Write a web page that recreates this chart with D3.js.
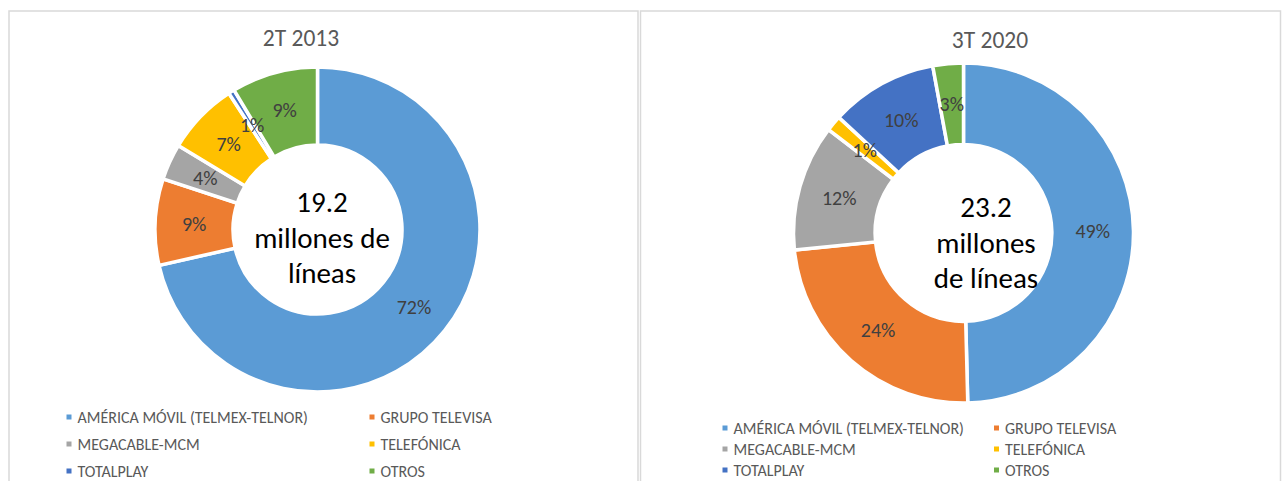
<!DOCTYPE html>
<html>
<head>
<meta charset="utf-8">
<script src="https://cdn.jsdelivr.net/npm/d3@7"></script>
<style>
  body { margin: 0; background: #fff; }
  svg text { font-family: Calibri, Carlito, Lato, sans-serif; }
</style>
</head>
<body>
<script>
// Companies (legend order = slice order, clockwise from 12 o'clock)
var companies = ["AMÉRICA MÓVIL (TELMEX-TELNOR)", "GRUPO TELEVISA", "MEGACABLE-MCM", "TELEFÓNICA", "TOTALPLAY", "OTROS"];
var colors = ["#5B9BD5", "#ED7D31", "#A5A5A5", "#FFC000", "#4472C4", "#70AD47"];

// 2T 2013 shares and the printed labels
var share2013 = [71.6, 8.6, 3.6, 7.2, 0.6, 8.6];
var labels2013 = ["72%", "9%", "4%", "7%", "1%", "9%"];
var center2013 = ["19.2", "millones de", "líneas"];

// 3T 2020
var share2020 = [49.6, 23.8, 12.0, 1.5, 10.2, 2.9];
var labels2020 = ["49%", "24%", "12%", "1%", "10%", "3%"];
var center2020 = ["23.2", "millones", "de líneas"];

var svg = d3.select("body").append("svg")
    .attr("width", 1283)
    .attr("height", 481);

// panel frames
svg.append("rect").attr("x", 9).attr("y", 11).attr("width", 629).attr("height", 490)
    .attr("fill", "none").attr("stroke", "#d9d9d9").attr("stroke-width", 1.5);
svg.append("rect").attr("x", 640.5).attr("y", 11).attr("width", 640).attr("height", 490)
    .attr("fill", "none").attr("stroke", "#d9d9d9").attr("stroke-width", 1.5);

function drawDonut(cfg) {
  var pie = d3.pie().sort(null).value(function(d) { return d; });
  var arcs = pie(cfg.values);
  var inner = cfg.radius * 0.52;
  var arc = d3.arc().innerRadius(inner).outerRadius(cfg.radius);

  var g = svg.append("g").attr("transform", "translate(" + cfg.cx + "," + cfg.cy + ")");

  g.selectAll("path")
      .data(arcs)
      .enter().append("path")
      .attr("d", arc)
      .attr("fill", function(d, i) { return colors[i]; })
      .attr("stroke", "#fff")
      .attr("stroke-width", 3.5);

  // data labels sit in the middle of the ring
  g.selectAll("text.lbl")
      .data(arcs)
      .enter().append("text")
      .attr("class", "lbl")
      .attr("transform", function(d) { return "translate(" + arc.centroid(d) + ")"; })
      .attr("text-anchor", "middle")
      .attr("dy", "0.35em")
      .attr("font-size", 20)
      .attr("fill", "#404040")
      .text(function(d, i) { return cfg.labels[i]; });

  // title
  svg.append("text")
      .attr("x", cfg.titleX).attr("y", cfg.titleY)
      .attr("text-anchor", "middle")
      .attr("font-size", 23.5)
      .attr("fill", "#595959")
      .text(cfg.title);

  // center text box
  svg.append("g").selectAll("text")
      .data(cfg.center)
      .enter().append("text")
      .attr("x", cfg.textX)
      .attr("y", function(d, i) { return cfg.textY + i * 35.5; })
      .attr("text-anchor", "middle")
      .attr("font-size", 29)
      .attr("fill", "#000")
      .text(function(d) { return d; });

  // legend, two columns
  var leg = svg.append("g").selectAll("g")
      .data(companies)
      .enter().append("g")
      .attr("transform", function(d, i) {
        return "translate(" + cfg.legX[i % 2] + "," + (cfg.legY + Math.floor(i / 2) * cfg.legStep) + ")";
      });
  leg.append("rect")
      .attr("x", -2.5).attr("y", -2.5).attr("width", 5).attr("height", 5)
      .attr("fill", function(d, i) { return colors[i]; });
  leg.append("text")
      .attr("x", 8.5).attr("dy", "0.35em")
      .attr("font-size", 16)
      .attr("fill", "#595959")
      .text(function(d) { return d; });
}

drawDonut({
  values: share2013, labels: labels2013, center: center2013,
  cx: 317.5, cy: 229.5, radius: 162.5,
  title: "2T 2013", titleX: 301, titleY: 46,
  textX: 322, textY: 212,
  legX: [69, 372], legY: 417, legStep: 27
});

drawDonut({
  values: share2020, labels: labels2020, center: center2020,
  cx: 963.5, cy: 233, radius: 170,
  title: "3T 2020", titleX: 990, titleY: 48,
  textX: 986, textY: 217,
  legX: [725, 996.5], legY: 428, legStep: 21
});
</script>
</body>
</html>
